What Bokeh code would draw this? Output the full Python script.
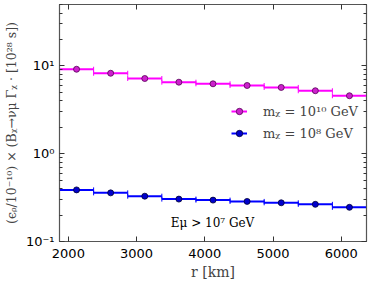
from bokeh.plotting import figure
from bokeh.models import (ColumnDataSource, FixedTicker, LinearAxis, LogAxis, Whisker, TeeHead,
                          Legend, LegendItem, Label, Range1d, CustomLabelingPolicy)
from bokeh.embed import file_html
from bokeh.resources import INLINE

# ---- data ----
r_centers = [2120, 2620, 3120, 3620, 4120, 4620, 5120, 5620, 6120]
bin_halfwidth = 250
gamma_m1e10 = [9.15, 8.24, 7.18, 6.52, 6.25, 5.98, 5.68, 5.21, 4.57]
gamma_m1e8 = [0.387, 0.358, 0.328, 0.304, 0.296, 0.286, 0.276, 0.265, 0.245]
x_ticks = [2000, 3000, 4000, 5000, 6000]
y_ticks = [0.1, 1, 10]
y_tick_labels = {0.1: "10⁻¹", 1: "10⁰", 10: "10¹"}
label_m1e10 = "mᵪ = 10¹⁰ GeV"
label_m1e8 = "mᵪ = 10⁸ GeV"
annot = "Eμ > 10⁷ GeV"

y_minor = [k * 10.0 ** e for e in (-1, 0, 1) for k in range(2, 10)]

p = figure(output_backend="svg", toolbar_location=None,
           x_axis_type="linear", y_axis_type="log",
           frame_width=307, frame_height=237,
           min_border_left=53, min_border_right=6, min_border_top=0, min_border_bottom=38,
           x_range=Range1d(1870, 6370), y_range=Range1d(0.1, 50))
p.xgrid.visible = False
p.ygrid.visible = False
p.background_fill_color = "white"
p.outline_line_color = "#555555"
p.outline_line_width = 1.2

TICK_FONT = "DejaVu Sans"
SERIF = "DejaVu Serif"

no_labels = CustomLabelingPolicy(code="""
const out = indices.clone ? indices.clone() : indices;
for (const i of [...out]) out.unset(i);
return out;
""")

def style_axis(ax, show_labels=True):
    ax.axis_line_color = "#555555"
    ax.major_tick_in = 5
    ax.major_tick_out = 0
    ax.minor_tick_in = 3
    ax.minor_tick_out = 0
    ax.major_tick_line_color = "#333333"
    ax.minor_tick_line_color = "#333333"
    ax.major_label_text_font = TICK_FONT
    ax.major_label_text_color = "black"
    if show_labels:
        ax.major_label_text_font_size = "13px"
        ax.major_label_standoff = 5
    else:
        ax.major_label_text_font_size = "1px"
        ax.major_label_standoff = 0
        ax.major_label_policy = no_labels

xt = FixedTicker(ticks=x_ticks, minor_ticks=[])
yt = FixedTicker(ticks=y_ticks, minor_ticks=y_minor)

xa = p.xaxis[0]
xa.ticker = xt
style_axis(xa)
xa.major_label_standoff = 7
xa.axis_label = "r [km]"
xa.axis_label_text_font = SERIF
xa.axis_label_text_font_style = "normal"
xa.axis_label_text_font_size = "14px"
xa.axis_label_standoff = 3

ya = p.yaxis[0]
ya.ticker = yt
ya.major_label_overrides = y_tick_labels
style_axis(ya)
ya.axis_label = "(ϵᵨ/10⁻¹⁰) × (Bᵪ→νμ Γᵪ · [10²⁸ s])"
ya.axis_label_text_font = SERIF
ya.axis_label_text_font_style = "normal"
ya.axis_label_text_font_size = "12.5px"
ya.axis_label_standoff = 4

top = LinearAxis(ticker=FixedTicker(ticks=x_ticks, minor_ticks=[]))
style_axis(top, show_labels=False)
p.add_layout(top, "above")
right = LogAxis(ticker=FixedTicker(ticks=y_ticks, minor_ticks=y_minor))
style_axis(right, show_labels=False)
p.add_layout(right, "right")

def series(vals, line_color, fill_color, edge_color):
    lo = [c - bin_halfwidth for c in r_centers]
    hi = [c + bin_halfwidth for c in r_centers]
    src = ColumnDataSource(dict(x=r_centers, y=vals, lo=lo, hi=hi))
    seg = p.segment(x0="lo", x1="hi", y0="y", y1="y", source=src,
                    line_color=line_color, line_width=2)
    w = Whisker(source=src, base="y", lower="lo", upper="hi", dimension="width",
                line_alpha=0,
                lower_head=TeeHead(size=5, line_color=line_color, line_width=1),
                upper_head=TeeHead(size=5, line_color=line_color, line_width=1))
    p.add_layout(w)
    sc = p.scatter(x="x", y="y", source=src, size=6, marker="circle",
                   fill_color=fill_color, line_color=edge_color, line_width=0.8)
    return seg, sc

seg1, sc1 = series(gamma_m1e10, "#ff00ff", "#cc22cc", "#550055")
seg2, sc2 = series(gamma_m1e8, "#0000ff", "#0000cc", "#000033")

legend = Legend(items=[LegendItem(label=label_m1e10, renderers=[seg1, sc1]),
                       LegendItem(label=label_m1e8, renderers=[seg2, sc2])],
                location=(172, 100), padding=0, margin=0, spacing=6,
                glyph_width=16, glyph_height=16, label_standoff=16,
                label_text_font=SERIF, label_text_font_size="13px",
                background_fill_alpha=0, border_line_alpha=0)
p.add_layout(legend)

p.add_layout(Label(x=153, y=19, x_units="screen", y_units="screen", text=annot,
                   text_align="center", text_baseline="middle",
                   text_font=SERIF, text_font_size="12px", text_color="black"))

open("out.html", "w").write(file_html(p, INLINE))
